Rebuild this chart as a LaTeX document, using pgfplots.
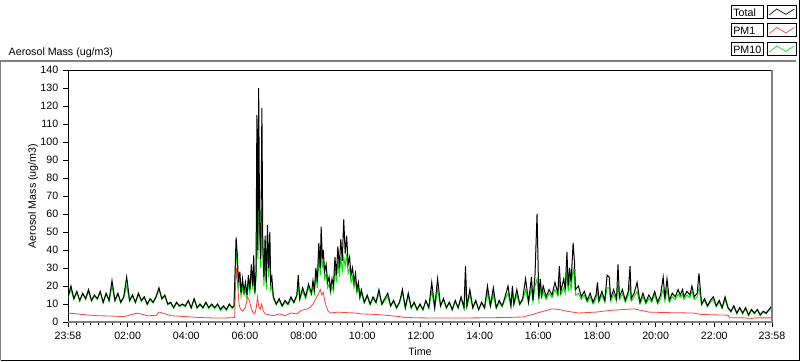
\documentclass[border=0pt]{standalone}
\usepackage{fontspec}
\setmainfont{Liberation Sans}
\usepackage{pgfplots}
\pgfplotsset{compat=1.18}
\usepackage{pgfplotstable}
\definecolor{pmred}{RGB}{255,64,64}
\definecolor{pmgreen}{RGB}{0,230,0}
\definecolor{frgray}{RGB}{128,128,128}
\newcommand\lf{\fontsize{8}{9.6}\selectfont}

\pgfplotstableread{
t tot pm10
0.0 14 13.5
0.1 20 18
0.2 13 12.5
0.3 17 16.5
0.4 12 11.5
0.5 16 15.5
0.6 13 12.5
0.7 18 17
0.8 12 11.5
0.9 15 14.5
1.0 13 12.5
1.1 17 16.5
1.2 11 10.5
1.3 16 15.5
1.4 12 11.5
1.5 23 20
1.6 12 11.5
1.7 16 15.5
1.8 11 10.5
1.9 14 13.5
2.0 25 20
2.1 12 11.5
2.2 15 14.5
2.3 11 10.5
2.4 16 15.5
2.5 12 11.5
2.6 14 13.5
2.7 10 9.5
2.8 13 12.5
2.9 11 10.5
3.0 14 13.5
3.1 19 18
3.2 13 12.5
3.3 15 14.5
3.4 10 9.5
3.5 11 10.5
3.6 8 7.5
3.7 11 10.5
3.8 9 8.5
3.9 10 9.5
4.0 9 8.5
4.1 12 11.5
4.2 8 7.5
4.3 13 12.5
4.4 8 7.5
4.5 10 9.5
4.6 8 7.5
4.7 11 10.5
4.8 8 7.5
4.9 10 9.5
5.0 8 7.5
5.1 10 9.5
5.2 7 6.5
5.3 9 8.5
5.4 7 6.5
5.5 10 9.5
5.6 8 7.5
5.66 9 8.5
5.7 30 26
5.73 47 40
5.77 38 32
5.81 22 19
5.86 28 23
5.9 16 14
5.95 24 20
6.0 17 15
6.05 22 18
6.1 15 13
6.15 26 22
6.2 18 16
6.25 32 27
6.3 20 18
6.33 37 32
6.37 16 15
6.41 28 24
6.44 115 62
6.47 40 35
6.5 130 80
6.53 58 50
6.57 35 30
6.61 119 64
6.64 45 38
6.68 25 20
6.72 48 40
6.76 22 18
6.8 54 45
6.84 30 25
6.88 50 42
6.91 22 18
6.95 25 20
7.0 14 13
7.1 10 9.5
7.2 13 12
7.3 9 8.5
7.4 12 11
7.5 10 9.5
7.6 14 13
7.7 11 10.5
7.8 15 14
7.85 26 20
7.9 13 12
8.0 19 17
8.1 14 13
8.2 21 19
8.3 16 15
8.35 23 20
8.4 18 16
8.45 30 26
8.5 22 19
8.55 44 38
8.6 30 26
8.63 53 40
8.67 35 30
8.7 40 34
8.75 28 24
8.8 32 27
8.85 22 19
8.9 25 21
8.95 18 16
9.0 24 20
9.05 20 17
9.1 36 30
9.15 26 22
9.2 42 34
9.25 30 25
9.3 46 36
9.35 34 28
9.4 57 36
9.45 38 31
9.5 48 38
9.55 32 27
9.6 36 30
9.65 26 22
9.7 30 25
9.75 22 19
9.8 27 23
9.85 18 16
9.9 22 19
9.95 14 13
10.0 18 16
10.1 11 10.5
10.2 15 14
10.3 10 9.5
10.4 14 13
10.5 11 10.5
10.6 18 16
10.7 10 9.5
10.8 13 12
10.9 16 14
11.0 9 8.5
11.1 12 11.5
11.2 8 7.5
11.3 11 10.5
11.4 18 16
11.5 8 7.5
11.6 16 14.5
11.7 8 7.5
11.8 11 10.5
11.9 7 6.5
12.0 10 9.5
12.1 7 6.5
12.2 12 11.5
12.3 8 7.5
12.4 22 17
12.5 8 7.5
12.6 24 18
12.7 9 8.5
12.8 13 12.5
12.9 8 7.5
13.0 11 10.5
13.1 7 6.5
13.2 12 11.5
13.3 8 7.5
13.4 14 13
13.5 8 7.5
13.55 31 20
13.6 9 8.5
13.7 18 15
13.8 8 7.5
13.9 12 11.5
14.0 7 6.5
14.1 11 10.5
14.2 8 7.5
14.3 20 16
14.4 9 8.5
14.5 19 15
14.6 8 7.5
14.7 12 11
14.8 9 8.5
14.9 14 12.5
15.0 20 16
15.1 9 8.5
15.15 20 16
15.2 10 9.5
15.3 18 15
15.4 10 9.5
15.5 13 12
15.6 24 18
15.7 11 10.5
15.8 25 19
15.85 12 11
15.92 26 20
15.99 60 24
16.05 13 12
16.1 24 18
16.15 15 13.5
16.2 20 17
16.3 14 12.5
16.4 18 16
16.5 15 13.5
16.6 22 18
16.7 16 14.5
16.75 31 23
16.8 17 15
16.9 24 19
16.95 18 16
17.01 39 28
17.05 20 17
17.1 30 24
17.15 22 18
17.22 44 30
17.27 32 24
17.3 18 15
17.4 20 16
17.5 14 12.5
17.6 17 15
17.7 12 11
17.8 16 14
17.9 11 10
18.0 15 13
18.05 22 17
18.1 12 11
18.2 17 15
18.3 12 11
18.38 26 19
18.45 25 19
18.5 13 11.5
18.6 18 15.5
18.7 13 11.5
18.75 32 21
18.8 14 12.5
18.9 18 15.5
19.0 12 11
19.1 17 15
19.16 31 21
19.2 13 11.5
19.3 16 14
19.4 22 17
19.5 11 10
19.6 16 14
19.7 11 10
19.8 15 13
19.9 12 11
20.0 17 15
20.1 11 10
20.2 15 13
20.29 25 18
20.35 13 11.5
20.42 24 18
20.5 12 11
20.6 16 14
20.7 14 12.5
20.8 18 15.5
20.87 15 13.5
20.95 18 15.5
21.0 14 12.5
21.1 17 15
21.2 15 13.5
21.27 20 17
21.35 14 12.5
21.45 16 14
21.51 27 19
21.6 10 9.5
21.7 13 12
21.8 9 8.5
21.9 12 11
22.0 14 12.5
22.1 9 8.5
22.2 12 11
22.3 8 7.5
22.4 14 12.5
22.5 8 7.5
22.6 6 5.5
22.7 9 8.5
22.8 5 4.5
22.9 8 7.5
23.0 5 4.5
23.1 8 7.5
23.2 4 3.5
23.3 7 6.5
23.4 5 4.5
23.5 7 6.5
23.6 4 3.5
23.7 6 5.5
23.8 5 4.5
23.9 7 6.5
24.0 9 8.5
}\tdata

\begin{document}
\begin{tikzpicture}
\useasboundingbox (0,0) rectangle (600pt,-270.75pt);
\fill[white] (0,0) rectangle (600pt,-270.75pt);
% outer frame
\draw[frgray, line width=1pt] (0.4pt,-270pt) -- (0.4pt,-45.75pt) -- (597pt,-45.75pt);
\draw[black, line width=0.75pt] (0.4pt,-270.3pt) -- (599.4pt,-270.3pt) -- (599.4pt,0pt);
\begin{axis}[
  name=ax, at={(51pt,-52.5pt)}, anchor=north west,
  scale only axis, width=528pt, height=189pt,
  xmin=0, xmax=24, ymin=0, ymax=140,
  axis line style={black, line width=0.75pt},
  tick pos=left, tick align=outside,
  major tick length=3.75pt, minor tick length=2.6pt,
  tick style={black, line width=0.75pt},
  xtick={0,2.0333,4.0333,6.0333,8.0333,10.0333,12.0333,14.0333,16.0333,18.0333,20.0333,22.0333,24},
  xticklabels={23:58,02:00,04:00,06:00,08:00,10:00,12:00,14:00,16:00,18:00,20:00,22:00,23:58},
  minor xtick={0.0333,0.2833,...,23.8},
  ytick={0,10,...,140},
  /pgf/number format/assume math mode=true,
  ticklabel style={font=\lf},
  xlabel={Time}, ylabel={Aerosol Mass (ug/m3)},
  title={Aerosol Mass (ug/m3)},
  every axis title/.style={at={(axis description cs:-0.0909,1.0595)}, anchor=base west, font=\lf},
  every axis x label/.style={at={(axis description cs:0.5,-0.131)}, anchor=base, font=\lf},
  every axis y label/.style={at={(axis description cs:-0.0497,0.5)}, rotate=90, anchor=center, font=\lf},
]
\addplot[pmgreen, line width=0.7pt] table[x=t,y=pm10]{\tdata};
\addplot[black, line width=0.75pt] table[x=t,y=tot]{\tdata};
\addplot[pmred, line width=0.6pt] coordinates {
(0,5) (0.3,4.5) (0.6,4) (1.0,3.5) (1.5,3.3) (1.9,3) (2.1,3.8) (2.3,4.8) (2.5,4.5) (2.7,3.5) (3.0,3.6) (3.1,5.5) (3.3,4.6) (3.5,3.5) (4.0,3) (4.5,2.5) (5.0,2.2) (5.5,2.3) (5.68,2.5) (5.71,20) (5.74,30) (5.78,22) (5.83,10) (5.88,7) (5.95,6) (6.05,8) (6.12,14) (6.18,12) (6.24,8) (6.3,5.5) (6.37,4.5) (6.42,8) (6.46,14) (6.5,9) (6.55,7) (6.6,10) (6.66,6) (6.72,4.5) (6.85,4) (7.0,3.5) (7.2,4.5) (7.4,3.5) (7.6,5) (7.8,4.5) (7.95,6.5) (8.1,7) (8.25,8) (8.35,10) (8.45,13) (8.55,16) (8.6,18) (8.65,15) (8.7,16.5) (8.75,12) (8.8,9) (8.87,6) (8.95,5) (9.2,5.5) (9.5,5.2) (9.8,5) (10.0,4.5) (10.5,4.2) (11.0,3.5) (11.3,3) (11.5,2.5) (12.0,2.3) (13.0,2.2) (14.0,2.3) (15.0,2.5) (15.5,2.8) (15.8,4) (16.1,5.5) (16.5,7.3) (16.8,6.8) (17.0,6) (17.4,5) (18.0,5.5) (18.5,6.5) (19.0,7) (19.3,7.3) (19.8,5.5) (20.5,5.2) (21.3,5) (21.6,4.2) (22.0,4) (22.5,3.8) (22.55,2.4) (23.0,2.3) (23.3,2) (23.5,2.3) (24,2.3)
};
\end{axis}
% sunken edges of plot area
\draw[frgray, line width=0.9pt] (51pt,-241.5pt) -- (579pt,-241.5pt) -- (579pt,-52.5pt);
% legend
\foreach \lab/\col/\dy in {Total/black/0, PM1/pmred/13.875, PM10/pmgreen/27.75}{
  \draw[black, line width=0.6pt] (548.8pt,-3.75pt-\dy pt) rectangle (572.2pt,-13.5pt-\dy pt);
  \node[anchor=base west, inner sep=0pt, font=\lf] at (549.8pt,-12pt-\dy pt) {\lab};
  \draw[black, line width=0.6pt] (575.5pt,-3.75pt-\dy pt) rectangle (597pt,-13.5pt-\dy pt);
  \draw[\col, line width=0.5pt] (577pt,-11.25pt-\dy pt) -- (582.5pt,-6.75pt-\dy pt) -- (589.5pt,-10.75pt-\dy pt) -- (595.7pt,-6.75pt-\dy pt);
}
\end{tikzpicture}
\end{document}
